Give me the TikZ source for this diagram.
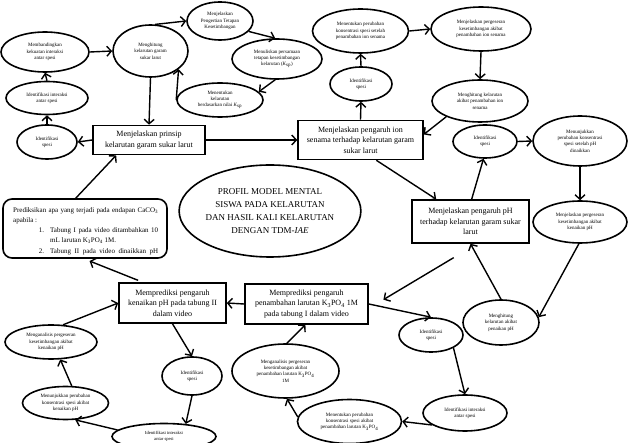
\documentclass[tikz,border=0pt]{standalone}
\usepackage{fontspec}
\setmainfont{Liberation Serif}
\usetikzlibrary{shapes.geometric,arrows.meta}
\begin{document}
\begin{tikzpicture}[x=1pt,y=-1pt,
  ell/.style={draw,ellipse,line width=1.6pt,inner sep=0pt,align=center,font=\fontsize{5}{6.3}\selectfont},
  bx/.style={draw,rectangle,line width=1.6pt,inner sep=0pt,align=center,font=\fontsize{8}{10.5}\selectfont},
  arr/.style={-{Straight Barb[length=4.5pt,width=10pt]},line width=1.4pt},
]
\useasboundingbox (0,0) rectangle (632,443);
% top-left cluster
\node[ell,minimum width=88pt,minimum height=40pt] (e1) at (45,52) {Membandingkan\\kekuatan interaksi\\antar spesi};
\node[ell,minimum width=82pt,minimum height=33pt] (e2) at (47,98) {Identifikasi interaksi\\antar spesi};
\node[ell,minimum width=60pt,minimum height=34pt] (e3) at (47,142) {Identifikasi\\spesi};
\node[ell,minimum width=75pt,minimum height=52pt] (e4) at (150.5,51) {Menghitung\\kelarutan garam\\sukar larut};
\node[ell,minimum width=66pt,minimum height=38pt] (e5) at (220,21) {Menjelaskan\\Pengertian Tetapan\\Kesetimbangan};
\node[ell,minimum width=90pt,minimum height=40pt] (e6) at (277,59) {Menuliskan persamaan\\tetapan kesetimbangan\\kelarutan (\textit{K}\textsubscript{sp})};
\node[ell,minimum width=86pt,minimum height=34pt] (e7) at (220,100) {Menentukan\\kelarutan\\berdasarkan nilai \textit{K}\textsubscript{sp}};
\node[bx,minimum width=112pt,minimum height=29pt] (b1) at (149,140) {Menjelaskan prinsip\\kelarutan garam sukar larut};
% top-right cluster
\node[bx,minimum width=125pt,minimum height=39pt] (b2) at (360.5,140) {Menjelaskan pengaruh ion\\senama terhadap kelarutan garam\\sukar larut};
\node[ell,minimum width=62pt,minimum height=34pt] (e8) at (361,84) {Identifikasi\\spesi};
\node[ell,minimum width=96pt,minimum height=44pt] (e9) at (360.5,31) {Menentukan perubahan\\konsentrasi spesi setelah\\penambahan ion senama};
\node[ell,minimum width=100pt,minimum height=44pt] (e10) at (481,29) {Menjelaskan pergeseran\\kesetimbangan akibat\\penambahan ion senama};
\node[ell,minimum width=96pt,minimum height=42pt] (e11) at (480,101) {Menghitung kelarutan\\akibat penambahan ion\\senama};
\node[ell,minimum width=64pt,minimum height=33pt] (e12) at (485,141.5) {Identifikasi\\spesi};
\node[ell,minimum width=94pt,minimum height=50pt] (e13) at (580,141) {Menunjukkan\\perubahan konsentrasi\\spesi setelah pH\\dinaikkan};
\node[ell,minimum width=94pt,minimum height=42pt] (e14) at (580,222) {Menjelaskan pergeseran\\kesetimbangan akibat\\kenaikan pH};
\node[bx,minimum width=117pt,minimum height=43pt] (b3) at (470.5,221.5) {Menjelaskan pengaruh pH\\terhadap kelarutan garam sukar\\larut};
% bottom-right cluster
\node[ell,minimum width=76pt,minimum height=45pt] (e15) at (501,322.5) {Menghitung\\kelarutan akibat\\penaikan pH};
\node[ell,minimum width=64pt,minimum height=34pt] (e16) at (431,335) {Identifikasi\\spesi};
\node[ell,minimum width=84pt,minimum height=36pt] (e17) at (465,413) {Identifikasi interaksi\\antar spesi};
\node[ell,minimum width=104pt,minimum height=44pt] (e18) at (349.5,421.5) {Menentukan perubahan\\konsentrasi spesi akibat\\penambahan larutan K\textsubscript{3}PO\textsubscript{4}};
\node[ell,minimum width=107pt,minimum height=54pt] (e19) at (285.5,371) {Menganalisis pergeseran\\kesetimbangan akibat\\penambahan larutan K\textsubscript{3}PO\textsubscript{4}\\1M};
\node[bx,minimum width=123pt,minimum height=40pt] (b4) at (306.5,304) {Memprediksi pengaruh\\penambahan larutan K\textsubscript{3}PO\textsubscript{4} 1M\\pada tabung I dalam video};
% bottom-left cluster
\node[bx,minimum width=107pt,minimum height=40pt] (b5) at (172.5,303) {Memprediksi pengaruh\\kenaikan pH pada tabung II\\dalam video};
\node[ell,minimum width=60pt,minimum height=38pt] (e20) at (192,376) {Identifikasi\\spesi};
\node[ell,minimum width=104pt,minimum height=26pt,font=\fontsize{4.6}{5.8}\selectfont] (e21) at (164,436.5) {Identifikasi interaksi\\antar spesi};
\node[ell,minimum width=86pt,minimum height=33pt] (e22) at (65.5,403) {Menunjukkan perubahan\\konsentrasi spesi akibat\\kenaikan pH};
\node[ell,minimum width=92pt,minimum height=34pt] (e23) at (51,342) {Menganalisis pergeseran\\kesetimbangan akibat\\kenaikan pH};
% title
\node[draw,ellipse,line width=1.6pt,inner sep=0pt,minimum width=180pt,minimum height=92pt,align=center,font=\fontsize{9}{13}\selectfont] (title) at (270,211) {PROFIL MODEL MENTAL\\SISWA PADA KELARUTAN\\DAN HASIL KALI KELARUTAN\\DENGAN TDM-\textit{IAE}};
% rounded question box
\node[draw,rounded corners=9pt,line width=1.6pt,minimum width=164pt,minimum height=59pt,inner sep=0pt] (rb) at (85,228.5) {};
\begin{scope}
\clip (5,201) rectangle (165,254.5);
\node[anchor=north west,inner sep=0pt,text width=145pt,align=justify,font=\fontsize{7}{10.3}\selectfont] (rbt) at (13,207) {Prediksikan apa yang terjadi pada endapan CaCO\textsubscript{3}\linebreak apabila :\par
\leftskip=37pt\noindent\llap{1.\hspace{6pt}}Tabung I pada video ditambahkan 10\linebreak mL larutan K\textsubscript{3}PO\textsubscript{4} 1M.\par
\noindent\llap{2.\hspace{6pt}}\hbox to 108pt{Tabung II pada video dinaikkan pH}\par};
\end{scope}
% connectors
\draw[arr] (b1.west) -- (e3.east);
\draw[arr] (e3.north) -- (e2.south);
\draw[arr] (e2.north) -- (e1.south);
\draw[arr] (e1.east) -- (e4.west);
\draw[arr] (e4.south) -- (b1.north);
\draw[arr] (e4.80) -- (e5.west);
\draw[arr] (e5.-20) -- (e6.95);
\draw[arr] (e6.-95) -- (e7.12);
\draw[arr] (e7.west) -- (e4.-33);
\draw[arr] (b1.east) -- (b2.west);
\draw[arr] (rb.107) -- (b1.205);
\draw[arr] (b2.north) -- (e8.south);
\draw[arr] (e8.north) -- (e9.south);
\draw[arr] (e9.east) -- (e10.west);
\draw[arr] (e10.south) -- (e11.north);
\draw[arr] (e11.205) -- (b2.5);
\draw[arr] (b2.-52) -- (b3.147);
\draw[arr] (b3.87) -- (e12.-95);
\draw[arr] (e12.east) -- (e13.west);
\draw[arr] (e13.south) -- (e14.north);
\draw[arr] (e14.-93) -- (e15.8);
\draw[arr] (e15.north) -- (b3.south);
\draw[arr,shorten <=27pt,shorten >=17pt] (b3.-74) -- (b4.-4.5);
\draw[arr] (b4.west) -- (b5.east);
\draw[arr] (b4.east) -- (e16.north);
\draw[arr] (e16.-30) -- (e17.north);
\draw[arr] (e17.200) -- (e18.east);
\draw[arr] (e18.175) -- (e19.-87);
\draw[arr] (e19.87) -- (b4.-93);
\draw[arr] (b5.south) -- (e20.north);
\draw[arr] (e20.south) -- (e21.30);
\draw[arr] (e21.172) -- (e22.-60);
\draw[arr] (e22.70) -- (e23.-62);
\draw[arr] (e23.55) -- (b5.west);
\draw[arr,shorten <=5pt,shorten >=6pt] (b5.145) -- (rb.-92);
\end{tikzpicture}
\end{document}
